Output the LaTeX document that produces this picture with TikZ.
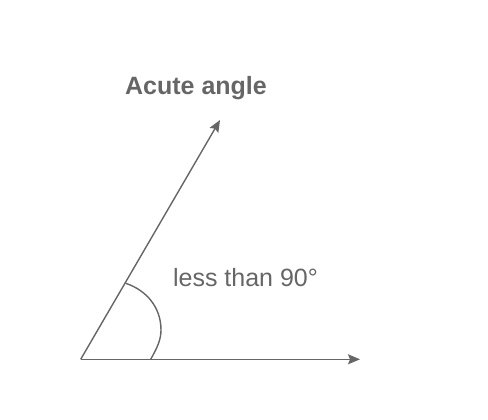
\documentclass[tikz,border=0pt]{standalone}
\usepackage{fontspec}
\setmainfont{Liberation Sans}
\usetikzlibrary{arrows.meta,positioning}
\definecolor{linegray}{HTML}{666666}
\tikzset{
    %Define standard arrow tip
    >={Stealth[length=12pt,width=10pt,inset=2pt]},
    %Define style for rays
    ray/.style={
           ->,
           draw=linegray,
           line width=1.4pt},
    % Define style for arc
    anglearc/.style={
           draw=linegray,
           line width=1.4pt},
    % Define style for labels
    label text/.style={
           text=linegray,
           inner sep=0pt,
           font=\fontsize{25}{29}\selectfont},
    title text/.style={
           label text,
           font=\fontsize{25}{29}\selectfont\bfseries}
}
\begin{document}
\begin{tikzpicture}[x=1pt,y=-1pt]
\useasboundingbox (0,0) rectangle (488,420);
\coordinate (O) at (80.7,359.3);
\coordinate (H) at (360,359.3);
\coordinate (S) at (220,120);
\coordinate (a1) at (150.7,359.3);
\coordinate (a2) at (125.7,283.3);

\node[title text](title) at (196,88.5){Acute angle};
\node[label text](measure) at (245.5,277.5){less than 90°};

\draw[ray] (O) -- (H);
\draw[ray] (O) -- (S);
\draw[anglearc] (a1) .. controls (157,348) and (161,340) .. (161,330)
    .. controls (161,307) and (146,290) .. (a2);

\end{tikzpicture}
\end{document}
